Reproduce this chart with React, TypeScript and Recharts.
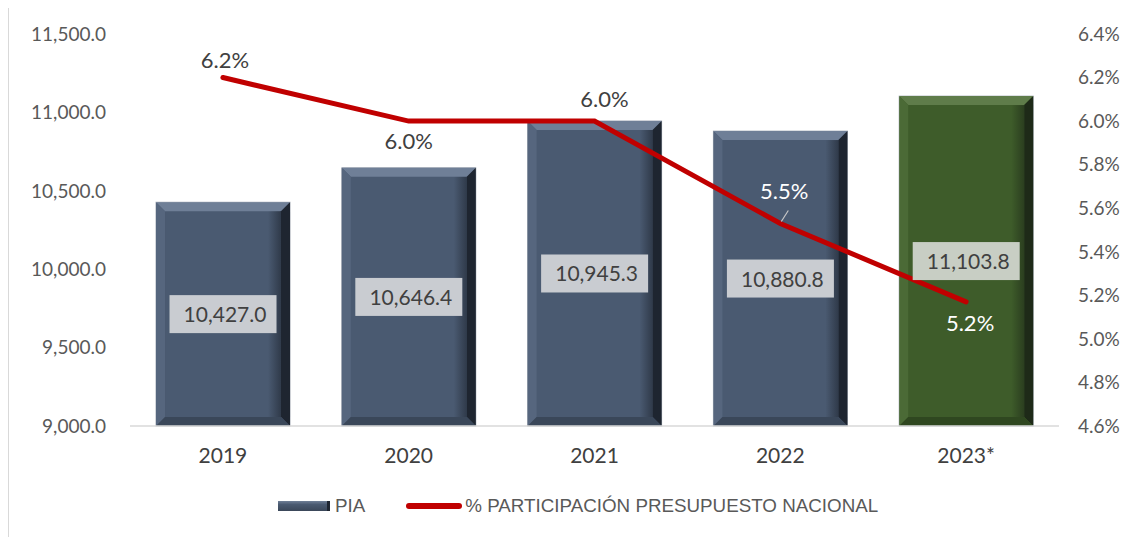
import { ComposedChart, Bar, Line, XAxis, YAxis, LabelList } from "recharts";

const years = ["2019", "2020", "2021", "2022", "2023*"];
const piaValues = [10427.0, 10646.4, 10945.3, 10880.8, 11103.8];
const shareValues = [6.2, 6.0, 6.0, 5.53, 5.17];
const leftTicks = [9000, 9500, 10000, 10500, 11000, 11500];
const rightTicks = [4.6, 4.8, 5.0, 5.2, 5.4, 5.6, 5.8, 6.0, 6.2, 6.4];

const data = years.map((year, i) => ({
    year,
    pia: piaValues[i],
    share: shareValues[i],
}));

// label placement for the % line (offset from the point)
const shareLabelDy = [-18, 20, -22, -32, 21];
const shareLabelDx = [2, 0, 10, 4, 4];
const shareLabelWhite = [false, false, false, true, true];

const fmt = (v: number) =>
    v.toLocaleString("en-US", { minimumFractionDigits: 1, maximumFractionDigits: 1 });

const FONT = "Lato, 'Open Sans', sans-serif";

function BevelBar(props: any) {
    const { x, y, width, height, index } = props;
    const green = index === 4;
    const main = green ? "#3E5C2A" : "#4A5A71";
    const top = green ? "#5F7C4A" : "#6F7F97";
    const right = green ? "#1E2A18" : "#1E2530";
    const left = green ? "#4B6A36" : "#56667E";
    const bottom = green ? "#2F4720" : "#3A4759";
    const b = 9;
    const gid = `bev-${index}`;
    return (
        <g>
            <defs>
                <linearGradient id={gid} x1="0" y1="0" x2="1" y2="0">
                    <stop offset="0" stopColor={right} stopOpacity={0} />
                    <stop offset="1" stopColor={right} stopOpacity={1} />
                </linearGradient>
            </defs>
            <rect x={x} y={y} width={width} height={height} fill={main} stroke="#A7AEB8" strokeWidth={1} />
            <polygon
                points={`${x},${y} ${x + width},${y} ${x + width - b},${y + b} ${x + b},${y + b}`}
                fill={top}
            />
            <polygon
                points={`${x},${y} ${x + b},${y + b} ${x + b},${y + height - b} ${x},${y + height}`}
                fill={left}
            />
            <polygon
                points={`${x + width},${y} ${x + width},${y + height} ${x + width - b},${y + height - b} ${x + width - b},${y + b}`}
                fill={right}
            />
            <rect x={x + width - 22} y={y + b} width={22 - b} height={height - 2 * b} fill={`url(#${gid})`} opacity={0.6} />
            <polygon
                points={`${x},${y + height} ${x + b},${y + height - b} ${x + width - b},${y + height - b} ${x + width},${y + height}`}
                fill={bottom}
            />
        </g>
    );
}

function PiaLabel(props: any) {
    const { x, y, width, height, value, index } = props;
    const cx = x + width / 2;
    const cy = y + height / 2;
    const w = 107;
    const h = 38;
    return (
        <g>
            <rect x={cx - w / 2} y={cy - h / 2} width={w} height={h} fill={index === 4 ? "#C8CEC4" : "#C9CCD1"} />
            <text x={cx + 2} y={cy + 8} textAnchor="middle" fontFamily={FONT} fontSize={21} fill="#404040">
                {fmt(value)}
            </text>
        </g>
    );
}

function ShareLabel(props: any) {
    const { x, y, value, index } = props;
    const tx = x + shareLabelDx[index];
    const ty = y + shareLabelDy[index];
    return (
        <g>
            {index === 3 && (
                <line x1={x + 8} y1={y - 13} x2={x + 1} y2={y - 2} stroke="#C8C8C8" strokeWidth={1.2} />
            )}
            <text
                x={tx}
                y={ty + 8}
                textAnchor="middle"
                fontFamily={FONT}
                fontSize={22}
                fill={shareLabelWhite[index] ? "#FFFFFF" : "#404040"}
            >
                {value.toFixed(1)}%
            </text>
        </g>
    );
}

function LegendBox() {
    return (
        <div
            style={{
                position: "absolute",
                left: 269,
                top: 489,
                display: "flex",
                alignItems: "center",
                fontFamily: "'Liberation Sans', Arial, sans-serif",
                fontSize: 18.8,
                color: "#595959",
            }}
        >
            <span
                style={{
                    display: "inline-block",
                    width: 52,
                    height: 10,
                    background: "linear-gradient(#6F7F97, #4A5A71 35%, #3A4759)",
                    borderRight: "3px solid #1E2530",
                    boxSizing: "border-box",
                    marginRight: 5,
                }}
            ></span>
            <span>PIA</span>
            <span
                style={{
                    display: "inline-block",
                    width: 56,
                    height: 6,
                    borderRadius: 3,
                    background: "#C00000",
                    marginLeft: 41,
                    marginRight: 3,
                }}
            ></span>
            <span>% PARTICIPACIÓN PRESUPUESTO NACIONAL</span>
        </div>
    );
}

export default function App() {
    return (
        <div
            style={{
                position: "relative",
                width: 1140,
                height: 540,
                marginTop: -3,
                border: "1px solid #D9D9D9",
                boxSizing: "border-box",
                background: "#fff",
            }}
        >
            <ComposedChart
                width={1138}
                height={538}
                data={data}
                margin={{ top: 28, right: 0, bottom: 78, left: 0 }}
                barCategoryGap="14%"
            >
                <XAxis
                    dataKey="year"
                    axisLine={{ stroke: "#D9D9D9", strokeWidth: 1.5 }}
                    tickLine={false}
                    tickSize={0}
                    tickMargin={22}
                    tick={{ fontFamily: FONT, fontSize: 21, fill: "#404040" }}
                    height={40}
                />
                <YAxis
                    yAxisId="left"
                    domain={[9000, 11500]}
                    ticks={leftTicks}
                    width={121}
                    axisLine={false}
                    tickLine={false}
                    tickSize={0}
                    tickMargin={24}
                    tickFormatter={(v: number) => fmt(v)}
                    tick={{ fontFamily: FONT, fontSize: 19, fill: "#595959" }}
                />
                <YAxis
                    yAxisId="right"
                    orientation="right"
                    domain={[4.6, 6.4]}
                    ticks={rightTicks}
                    width={88}
                    axisLine={false}
                    tickLine={false}
                    tickSize={0}
                    tickMargin={19}
                    tickFormatter={(v: number) => `${v.toFixed(1)}%`}
                    tick={{ fontFamily: FONT, fontSize: 19, fill: "#595959", textAnchor: "start" }}
                />
                <Bar
                    yAxisId="left"
                    dataKey="pia"
                    name="PIA"
                    shape={<BevelBar />}
                    isAnimationActive={false}
                >
                    <LabelList dataKey="pia" content={<PiaLabel />} />
                </Bar>
                <Line
                    yAxisId="right"
                    dataKey="share"
                    name="% PARTICIPACIÓN PRESUPUESTO NACIONAL"
                    stroke="#C00000"
                    strokeWidth={5}
                    strokeLinecap="round"
                    dot={false}
                    activeDot={false}
                    isAnimationActive={false}
                >
                    <LabelList dataKey="share" content={<ShareLabel />} />
                </Line>
            </ComposedChart>
            <LegendBox />
        </div>
    );
}
